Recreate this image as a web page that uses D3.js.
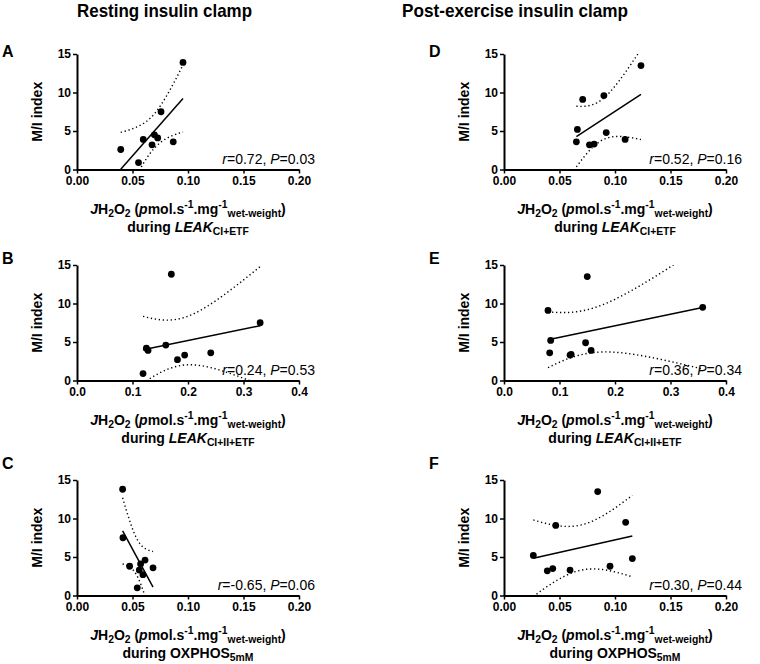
<!DOCTYPE html>
<html><head><meta charset="utf-8">
<script src="https://cdn.jsdelivr.net/npm/d3@7"></script>
<style>body{margin:0;background:#fff} text{font-family:"Liberation Sans",Arial,sans-serif;fill:#000}</style>
</head><body><svg id="c" width="760" height="664"></svg>
<script>
// ---- data ----
const columnTitles = ["Resting insulin clamp", "Post-exercise insulin clamp"];
const panelLetters = ["A", "B", "C", "D", "E", "F"];
const xTicks02 = [0, 0.05, 0.10, 0.15, 0.20];
const xTicks04 = [0, 0.1, 0.2, 0.3, 0.4];
const yTicks = [0, 5, 10, 15];

const xA = [0.0394, 0.0554, 0.0597, 0.0676, 0.0697, 0.0727, 0.0757, 0.0867, 0.0955];
const yA = [2.6, 0.9, 3.9, 3.2, 4.5, 4.1, 7.5, 3.6, 13.9];
const xB = [0.119, 0.125, 0.128, 0.160, 0.170, 0.181, 0.194, 0.241, 0.330];
const yB = [0.9, 4.2, 3.9, 4.6, 13.8, 2.7, 3.3, 3.6, 7.5];
const xC = [0.0411, 0.0414, 0.0474, 0.0543, 0.0561, 0.0573, 0.0594, 0.0613, 0.0685];
const yC = [13.8, 7.5, 3.8, 1.0, 3.3, 4.1, 2.7, 4.6, 3.6];
const xD = [0.0652, 0.0661, 0.0709, 0.0770, 0.0812, 0.0900, 0.0921, 0.1091, 0.1234];
const yD = [3.6, 5.2, 9.1, 3.2, 3.3, 9.6, 4.8, 3.9, 13.5];
const xE = [0.0793, 0.0823, 0.0841, 0.119, 0.121, 0.147, 0.150, 0.157, 0.358];
const yE = [9.1, 3.6, 5.2, 3.3, 3.4, 4.9, 13.5, 3.9, 9.5];
const xF = [0.0264, 0.039, 0.0439, 0.0466, 0.0595, 0.0844, 0.0955, 0.1096, 0.1156];
const yF = [5.2, 3.2, 3.5, 9.1, 3.3, 13.5, 3.8, 9.5, 4.8];

const statsText = [
  [["r","i"],["=0.72, ",""],["P","i"],["=0.03",""]],
  [["r","i"],["=0.24, ",""],["P","i"],["=0.53",""]],
  [["r","i"],["=-0.65, ",""],["P","i"],["=0.06",""]],
  [["r","i"],["=0.52, ",""],["P","i"],["=0.16",""]],
  [["r","i"],["=0.36, ",""],["P","i"],["=0.34",""]],
  [["r","i"],["=0.30, ",""],["P","i"],["=0.44",""]]
];
const xTitle1 = [["J","i"],["H",""],["2","sub"],["O",""],["2","sub"],[" (",""],["p","i"],["mol.s",""],["-1","sup"],[".mg",""],["-1","sup"],["wet-weight","sub"],[")",""]];
const xTitle2 = [
  [["during ",""],["LEAK","i"],["CI+ETF","sub"]],
  [["during ",""],["LEAK","i"],["CI+II+ETF","sub"]],
  [["during OXPHOS",""],["5mM","sub"]]
];
const yTitle = "M/I index";

// ---- layout ----
const colX = [77, 504], plotW = 222;
const rowTop = [54, 265, 480], plotH = 115.5;
const tCrit = 2.365; // t(0.975, df=7)

const svg = d3.select("#c");

function richText(sel, segs, size) {
  let cur = 0;
  segs.forEach(([t, st]) => {
    const target = st === "sub" ? size * 0.24 : st === "sup" ? -size * 0.38 : 0;
    const ts = sel.append("tspan").text(t).attr("dy", target - cur);
    cur = target;
    if (st === "sub" || st === "sup") ts.attr("font-size", size * 0.74);
    if (st === "i") ts.attr("font-style", "italic");
  });
}

function fit(xs, ys) {
  const n = xs.length, xb = d3.mean(xs), yb = d3.mean(ys);
  let sxx = 0, sxy = 0;
  xs.forEach((x, i) => { sxx += (x - xb) ** 2; sxy += (x - xb) * (ys[i] - yb); });
  const b = sxy / sxx, a = yb - b * xb;
  let sse = 0; xs.forEach((x, i) => { sse += (ys[i] - a - b * x) ** 2; });
  const s = Math.sqrt(sse / (n - 2));
  return { a, b, f: x => a + b * x, hw: x => tCrit * s * Math.sqrt(1 / n + (x - xb) ** 2 / sxx) };
}

// column titles
columnTitles.forEach((t, i) => {
  svg.append("text").attr("x", [164.5, 515][i]).attr("y", 17).attr("text-anchor", "middle")
    .attr("font-size", 18.5).attr("font-weight", "bold")
    .attr("textLength", [175, 226][i]).attr("lengthAdjust", "spacingAndGlyphs").text(t);
});

const panels = [
  { xs: xA, ys: yA, col: 0, row: 0, xmax: 0.2, ticks: xTicks02, fmt: d3.format(".2f") },
  { xs: xB, ys: yB, col: 0, row: 1, xmax: 0.4, ticks: xTicks04, fmt: d3.format(".1f") },
  { xs: xC, ys: yC, col: 0, row: 2, xmax: 0.2, ticks: xTicks02, fmt: d3.format(".2f") },
  { xs: xD, ys: yD, col: 1, row: 0, xmax: 0.2, ticks: xTicks02, fmt: d3.format(".2f") },
  { xs: xE, ys: yE, col: 1, row: 1, xmax: 0.4, ticks: xTicks04, fmt: d3.format(".1f") },
  { xs: xF, ys: yF, col: 1, row: 2, xmax: 0.2, ticks: xTicks02, fmt: d3.format(".2f") }
];
const letterBase = [57, 264, 469];

panels.forEach((p, k) => {
  const x0 = colX[p.col], top = rowTop[p.row], bot = top + plotH;
  const x = d3.scaleLinear().domain([0, p.xmax]).range([x0, x0 + plotW]);
  const y = d3.scaleLinear().domain([0, 15]).range([bot, top]);
  const g = svg.append("g");

  // letter
  svg.append("text").attr("x", x0 - 75).attr("y", letterBase[p.row])
    .attr("font-size", 16).attr("font-weight", "bold").text(panelLetters[k]);

  // clip
  const cid = "clip" + k;
  svg.append("clipPath").attr("id", cid).append("rect")
    .attr("x", x0).attr("y", top).attr("width", plotW).attr("height", plotH);

  // regression & CI
  const m = fit(p.xs, p.ys);
  const [mn, mx] = d3.extent(p.xs);
  const samp = d3.range(0, 61).map(i => mn + (mx - mn) * i / 60);
  const cg = g.append("g").attr("clip-path", `url(#${cid})`);
  const ln = d3.line().x(d => x(d[0])).y(d => y(d[1]));
  cg.append("path").attr("d", ln(samp.map(v => [v, m.f(v) + m.hw(v)])))
    .attr("fill", "none").attr("stroke", "#000").attr("stroke-width", 1.4).attr("stroke-dasharray", "1.3,2.7");
  cg.append("path").attr("d", ln(samp.map(v => [v, m.f(v) - m.hw(v)])))
    .attr("fill", "none").attr("stroke", "#000").attr("stroke-width", 1.4).attr("stroke-dasharray", "1.3,2.7");
  cg.append("path").attr("d", ln([[mn, m.f(mn)], [mx, m.f(mx)]]))
    .attr("fill", "none").attr("stroke", "#000").attr("stroke-width", 1.5);

  // points
  g.selectAll("circle.pt").data(p.xs.map((v, i) => [v, p.ys[i]])).join("circle")
    .attr("cx", d => x(d[0])).attr("cy", d => y(d[1])).attr("r", 3.4).attr("fill", "#000");

  // axes
  const ax = g.append("g").attr("transform", `translate(0,${bot})`)
    .call(d3.axisBottom(x).tickValues(p.ticks).tickFormat(p.fmt).tickSize(4).tickSizeOuter(0).tickPadding(3));
  const ay = g.append("g").attr("transform", `translate(${x0},0)`)
    .call(d3.axisLeft(y).tickValues(yTicks).tickSize(4).tickSizeOuter(0).tickPadding(2));
  [ax, ay].forEach(a => {
    a.select(".domain").attr("stroke-width", 2);
    a.selectAll(".tick line").attr("stroke-width", 1.5);
    a.selectAll(".tick text").attr("font-size", 12).attr("font-weight", "bold")
      .attr("font-family", '"Liberation Sans",Arial,sans-serif').attr("fill", "#000");
  });

  // y title
  svg.append("text").attr("transform", `translate(${x0 - 35},${(top + bot) / 2}) rotate(-90)`)
    .attr("text-anchor", "middle").attr("font-size", 14).attr("font-weight", "bold").text(yTitle);

  // x titles
  const cx = x0 + plotW / 2;
  const t1 = svg.append("text").attr("x", cx).attr("y", bot + 44).attr("text-anchor", "middle")
    .attr("font-size", 14).attr("font-weight", "bold");
  richText(t1, xTitle1, 14);
  const t2 = svg.append("text").attr("x", cx).attr("y", bot + 62.5).attr("text-anchor", "middle")
    .attr("font-size", 14).attr("font-weight", "bold");
  richText(t2, xTitle2[p.row], 14);

  // stats annotation
  const st = svg.append("text").attr("x", x0 + 238).attr("y", bot - 6).attr("text-anchor", "end")
    .attr("font-size", 14);
  richText(st, statsText[k], 14);
});
</script></body></html>
